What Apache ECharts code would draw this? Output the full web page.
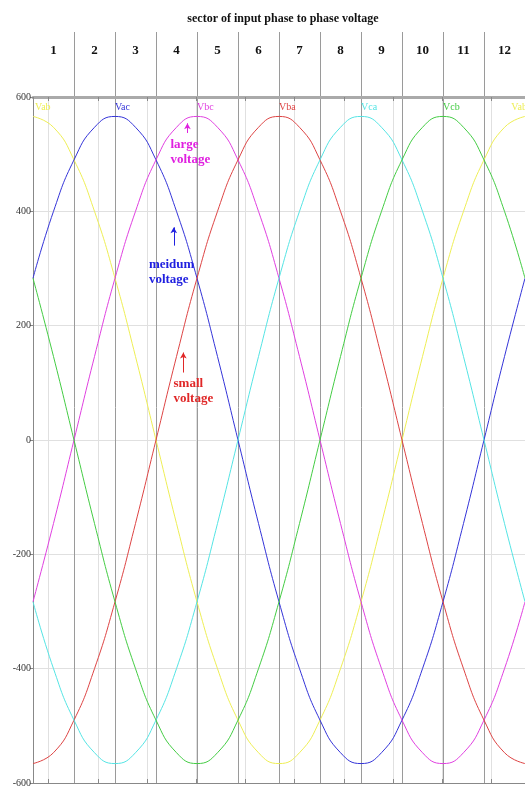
<!DOCTYPE html>
<html>
<head>
<meta charset="utf-8">
<title>sector of input phase to phase voltage</title>
<script src="https://cdn.jsdelivr.net/npm/echarts@6/dist/echarts.min.js"></script>
<style>
  html, body { margin: 0; padding: 0; background: #fff; }
  #chart { width: 525px; height: 792px; }
</style>
</head>
<body>
<div id="chart"></div>
<script>
// Electrical angle (degrees) of each sample over one mains period
const angles = [0, 15, 30, 45, 60, 75, 90, 105, 120, 135, 150, 165, 180,
                195, 210, 225, 240, 255, 270, 285, 300, 315, 330, 345, 360];

// Line-to-line voltages (V) at those angles
const vab = [566, 547, 490, 400, 283, 146, 0, -146, -283, -400, -490, -547, -566,
             -547, -490, -400, -283, -146, 0, 146, 283, 400, 490, 547, 566];
const vac = [283, 400, 490, 547, 566, 547, 490, 400, 283, 146, 0, -146, -283,
             -400, -490, -547, -566, -547, -490, -400, -283, -146, 0, 146, 283];
const vbc = [-283, -146, 0, 146, 283, 400, 490, 547, 566, 547, 490, 400, 283,
             146, 0, -146, -283, -400, -490, -547, -566, -547, -490, -400, -283];
const vba = [-566, -547, -490, -400, -283, -146, 0, 146, 283, 400, 490, 547, 566,
             547, 490, 400, 283, 146, 0, -146, -283, -400, -490, -547, -566];
const vca = [-283, -400, -490, -547, -566, -547, -490, -400, -283, -146, 0, 146, 283,
             400, 490, 547, 566, 547, 490, 400, 283, 146, 0, -146, -283];
const vcb = [283, 146, 0, -146, -283, -400, -490, -547, -566, -547, -490, -400, -283,
             -146, 0, 146, 283, 400, 490, 547, 566, 547, 490, 400, 283];

// Sector numbers across the top (30 degrees each)
const sectors = ['1', '2', '3', '4', '5', '6', '7', '8', '9', '10', '11', '12'];

// Voltage axis range and step
const yMin = -600, yMax = 600, yStep = 200;

// Time window shown (ms); one period at 50 Hz
const tStart = 1.36, tEnd = 21.36;

const SERIF = '"Liberation Serif", "Times New Roman", serif';

const curves = [
  { name: 'Vab', data: vab, color: '#eeee55', tags: [1.5, 350] },
  { name: 'Vac', data: vac, color: '#3434d8', tags: [60] },
  { name: 'Vbc', data: vbc, color: '#e040e0', tags: [120] },
  { name: 'Vba', data: vba, color: '#dd4444', tags: [180] },
  { name: 'Vca', data: vca, color: '#55e4e4', tags: [240] },
  { name: 'Vcb', data: vcb, color: '#44cc44', tags: [300] }
];

// Annotations: text placed in data coordinates, with a short upward arrow
const notes = {
  Vbc: { text: 'large\nvoltage', at: [100.6, 529], arrow: [[113, 537], [113, 554]], color: '#e020e0' },
  Vac: { text: 'meidum\nvoltage', at: [84.8, 319], arrow: [[103, 340], [103, 372]], color: '#2020e0' },
  Vba: { text: 'small\nvoltage', at: [102.8, 111], arrow: [[110, 118], [110, 153]], color: '#e02828' }
};

const series = curves.map(function (c) {
  const pts = angles.map(function (a, i) { return [a, c.data[i]]; });
  const mp = c.tags.map(function (a) {
    return {
      name: c.name, coord: [a, 590],
      label: { color: c.color, fontSize: 10, fontFamily: SERIF }
    };
  });
  const s = {
    name: c.name,
    type: 'line',
    xAxisIndex: 0,
    yAxisIndex: 0,
    data: pts,
    smooth: true,
    showSymbol: false,
    lineStyle: { color: c.color, width: 1 },
    itemStyle: { color: c.color },
    emphasis: { disabled: true },
    z: 3,
    markPoint: {
      symbol: 'circle', symbolSize: 0, silent: true,
      itemStyle: { color: 'transparent' },
      label: { show: true, position: [0, 0], align: 'left', verticalAlign: 'top', formatter: '{b}' },
      data: mp
    }
  };
  const n = notes[c.name];
  if (n) {
    s.markPoint.data.push({
      name: n.text, coord: n.at,
      label: {
        color: n.color, fontSize: 13, fontWeight: 'bold', fontFamily: SERIF,
        lineHeight: 15
      }
    });
    s.markLine = {
      silent: true,
      symbol: ['none', 'arrow'],
      symbolSize: [5, 6],
      label: { show: false },
      lineStyle: { color: n.color, width: 1, type: 'solid' },
      data: [[{ coord: n.arrow[0] }, { coord: n.arrow[1] }]]
    };
  }
  return s;
});

const chart = echarts.init(document.getElementById('chart'), null, { renderer: 'canvas' });

chart.setOption({
  animation: false,
  backgroundColor: '#ffffff',
  title: {
    text: 'sector of input phase to phase voltage',
    left: 278, top: 8, textAlign: 'center',
    textStyle: { fontFamily: SERIF, fontWeight: 'bold', fontSize: 12, color: '#111' }
  },
  grid: [
    { left: 33, right: -7, top: 97, bottom: 9 },
    { left: 33, right: -7, top: 32, bottom: 9 }
  ],
  xAxis: [
    { gridIndex: 0, type: 'value', min: 0, max: 360, show: false },
    {
      gridIndex: 0, type: 'value', min: tStart, max: tEnd, splitNumber: 10, position: 'bottom',
      axisLine: { show: true, lineStyle: { color: '#888', width: 1 } },
      axisTick: { show: true, inside: true, length: 4, lineStyle: { color: '#888' } },
      axisLabel: { show: false },
      splitLine: { show: true, lineStyle: { color: '#e0e0e0', width: 1 } }
    },
    {
      gridIndex: 0, type: 'value', min: tStart, max: tEnd, splitNumber: 10, position: 'top',
      axisLine: { show: true, lineStyle: { color: '#aaa', width: 3 } },
      axisTick: { show: true, inside: true, length: 4, lineStyle: { color: '#888' } },
      axisLabel: { show: false },
      splitLine: { show: false }
    },
    {
      gridIndex: 1, type: 'category', data: sectors, position: 'top', boundaryGap: true,
      axisLine: { show: false },
      axisTick: { show: false },
      axisLabel: {
        show: true, inside: true, margin: 12, interval: 0,
        fontFamily: SERIF, fontWeight: 'bold', fontSize: 13, color: '#111'
      },
      // sector boundaries; the left edge is already marked by the voltage axis
      splitLine: {
        show: true,
        interval: function (index) { return index > 0; },
        lineStyle: { color: '#9a9a9a', width: 1 }
      }
    }
  ],
  yAxis: [
    {
      gridIndex: 0, type: 'value', min: yMin, max: yMax, interval: yStep,
      axisLine: { show: true, lineStyle: { color: '#888' } },
      axisTick: { show: true, inside: false, length: 3, lineStyle: { color: '#888' } },
      axisLabel: { fontFamily: SERIF, fontSize: 10, color: '#333', margin: 2 },
      splitLine: { show: true, lineStyle: { color: '#e0e0e0' } }
    },
    { gridIndex: 1, type: 'value', show: false }
  ],
  series: series
});
</script>
</body>
</html>
